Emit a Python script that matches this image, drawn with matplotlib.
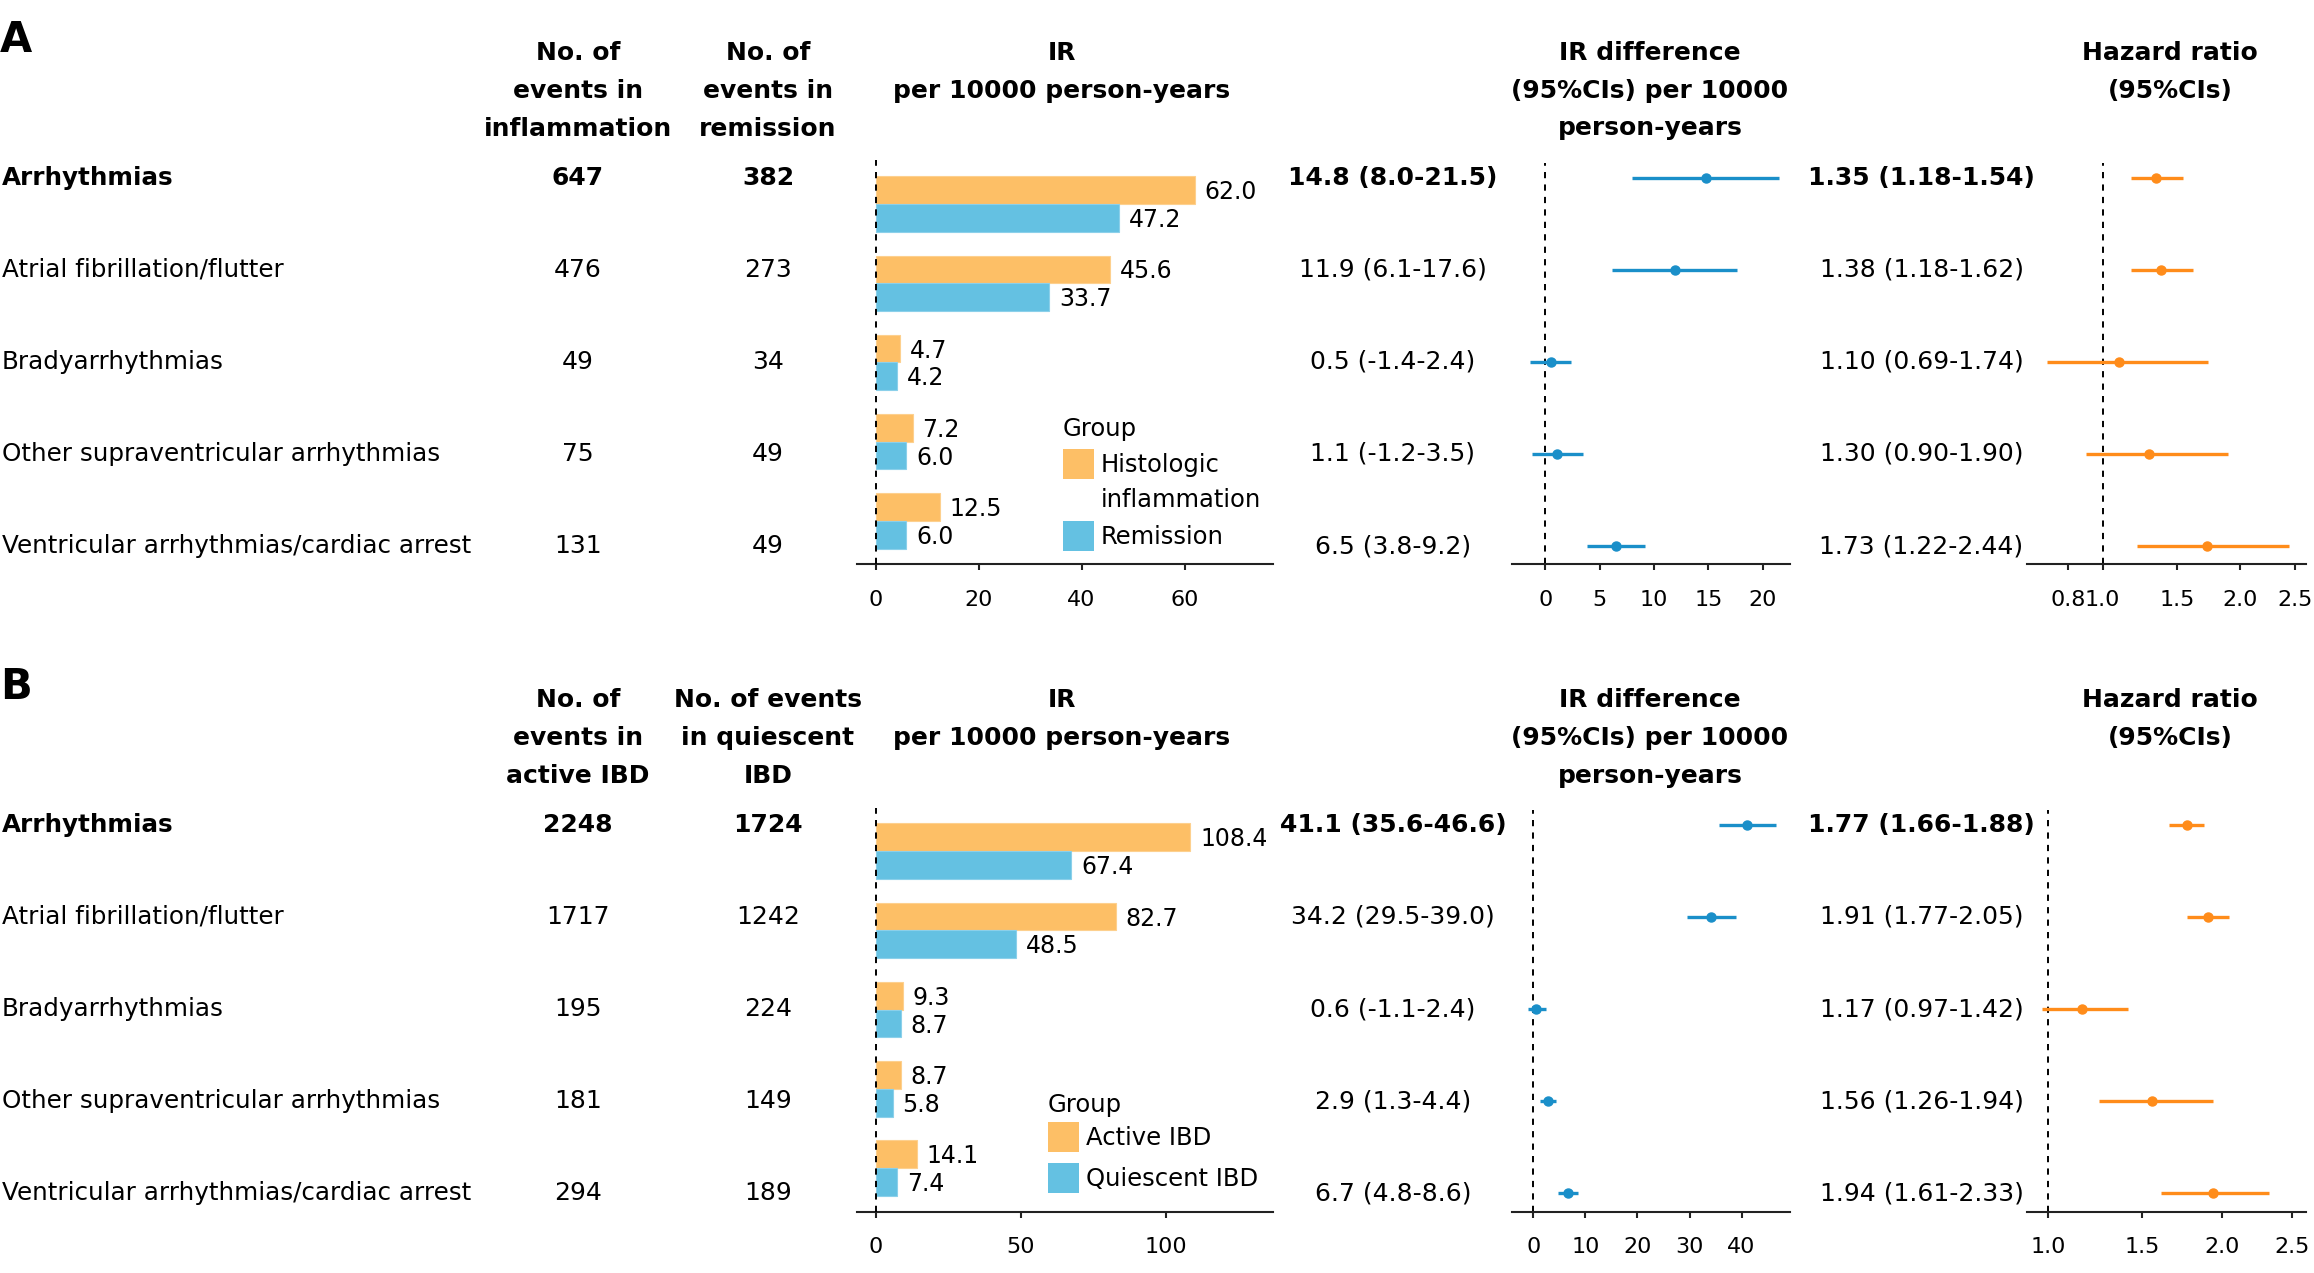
import numpy as np
import matplotlib
matplotlib.use("Agg")
import matplotlib.pyplot as plt
from matplotlib.patches import Rectangle
import matplotlib.transforms as mtransforms

plt.rcParams['font.family'] = ['DejaVu Sans']

# ---------------- data ----------------
categories = ["Arrhythmias", "Atrial fibrillation/flutter", "Bradyarrhythmias",
              "Other supraventricular arrhythmias", "Ventricular arrhythmias/cardiac arrest"]

# Panel A: histologic inflammation vs remission
a_events_1 = [647, 476, 49, 75, 131]
a_events_2 = [382, 273, 34, 49, 49]
a_ir_1 = [62.0, 45.6, 4.7, 7.2, 12.5]
a_ir_2 = [47.2, 33.7, 4.2, 6.0, 6.0]
a_ird = [14.8, 11.9, 0.5, 1.1, 6.5]
a_ird_lo = [8.0, 6.1, -1.4, -1.2, 3.8]
a_ird_hi = [21.5, 17.6, 2.4, 3.5, 9.2]
a_hr = [1.35, 1.38, 1.10, 1.30, 1.73]
a_hr_lo = [1.18, 1.18, 0.69, 0.90, 1.22]
a_hr_hi = [1.54, 1.62, 1.74, 1.90, 2.44]
a_col1 = ["No. of", "events in", "inflammation"]
a_col2 = ["No. of", "events in", "remission"]
a_legend = [["Histologic", "inflammation"], ["Remission"]]
a_bar_ticks = [0, 20, 40, 60]
a_ird_ticks = [0, 5, 10, 15, 20]
a_hr_ticks = [0.8, 1.0, 1.5, 2.0, 2.5]

# Panel B: active vs quiescent IBD
b_events_1 = [2248, 1717, 195, 181, 294]
b_events_2 = [1724, 1242, 224, 149, 189]
b_ir_1 = [108.4, 82.7, 9.3, 8.7, 14.1]
b_ir_2 = [67.4, 48.5, 8.7, 5.8, 7.4]
b_ird = [41.1, 34.2, 0.6, 2.9, 6.7]
b_ird_lo = [35.6, 29.5, -1.1, 1.3, 4.8]
b_ird_hi = [46.6, 39.0, 2.4, 4.4, 8.6]
b_hr = [1.77, 1.91, 1.17, 1.56, 1.94]
b_hr_lo = [1.66, 1.77, 0.97, 1.26, 1.61]
b_hr_hi = [1.88, 2.05, 1.42, 1.94, 2.33]
b_col1 = ["No. of", "events in", "active IBD"]
b_col2 = ["No. of events", "in quiescent", "IBD"]
b_legend = [["Active IBD"], ["Quiescent IBD"]]
b_bar_ticks = [0, 50, 100]
b_ird_ticks = [0, 10, 20, 30, 40]
b_hr_ticks = [1.0, 1.5, 2.0, 2.5]

hdr_ir = ["IR", "per 10000 person-years"]
hdr_ird = ["IR difference", "(95%CIs) per 10000", "person-years"]
hdr_hr = ["Hazard ratio", "(95%CIs)"]

# ---------------- style ----------------
W, H = 2314, 1273
DPI = 100
C_OR = "#FDBF66"
C_BL = "#64C1E2"
C_FB = "#1A8FC9"
C_FO = "#FF8C1A"
SP = "#222222"
FS = 18
FS_LAB = 17.7
FS_TICK = 16
FS_VAL = 17
DASH = (0, (3.2, 3.2))

fig = plt.figure(figsize=(W / DPI, H / DPI), dpi=DPI)


def px_axes(x0, x1, ytop, ybot):
    return fig.add_axes([x0 / W, 1 - ybot / H, (x1 - x0) / W, (ybot - ytop) / H])


def ftext(x, y, s, **kw):
    return fig.text(x / W, 1 - y / H, s, **kw)


def style_axis(ax, ticks, labels):
    for s in ["top", "right", "left"]:
        ax.spines[s].set_visible(False)
    ax.spines["bottom"].set_color(SP)
    ax.spines["bottom"].set_linewidth(1.5)
    ax.set_yticks([])
    ax.set_xticks(ticks)
    ax.set_xticklabels(labels)
    ax.tick_params(axis="x", length=4.5, width=1.5, color=SP, pad=14,
                   labelsize=FS_TICK, labelcolor="black")
    ax.patch.set_alpha(0)


def panel(off, letter, ev1, ev2, ir1, ir2, ird, ird_lo, ird_hi, hr, hr_lo, hr_hi,
          col1, col2, legend, bar_ticks, bar_xlim, ird_ticks, ird_xlim,
          hr_ticks, hr_xlim, leg_pos):
    n = len(categories)
    ypos = np.arange(n)

    # letter + headers
    ftext(0, 40 + off, letter, fontsize=30, fontweight="bold", ha="left", va="center")
    hy = [53 + off, 91 + off, 128.5 + off]
    for i, s in enumerate(col1):
        ftext(578, hy[i], s, fontsize=FS, fontweight="bold", ha="center", va="center")
    for i, s in enumerate(col2):
        ftext(768, hy[i], s, fontsize=FS, fontweight="bold", ha="center", va="center")
    for i, s in enumerate(hdr_ir):
        ftext(1062, hy[i], s, fontsize=FS, fontweight="bold", ha="center", va="center")
    for i, s in enumerate(hdr_ird):
        ftext(1650, hy[i], s, fontsize=FS, fontweight="bold", ha="center", va="center")
    for i, s in enumerate(hdr_hr):
        ftext(2170, hy[i], s, fontsize=FS, fontweight="bold", ha="center", va="center")

    # ---- bar chart ----
    axb = px_axes(857, 1272.5, 160.4 + off, 564.5 + off)
    h = 0.35
    axb.barh(ypos - h / 2, ir1, height=h, color=C_OR, edgecolor="#FDD08E", linewidth=0.8)
    axb.barh(ypos + h / 2, ir2, height=h, color=C_BL, edgecolor="#8BD0EA", linewidth=0.8)
    for i in range(n):
        axb.annotate(f"{ir1[i]:.1f}", (ir1[i], ypos[i] - h / 2), xytext=(7, -1.5),
                     textcoords="offset points", ha="left", va="center", fontsize=FS_VAL)
        axb.annotate(f"{ir2[i]:.1f}", (ir2[i], ypos[i] + h / 2), xytext=(7, -1.5),
                     textcoords="offset points", ha="left", va="center", fontsize=FS_VAL)
    axb.axvline(0, color="black", lw=1.4, ls=DASH, zorder=5)
    axb.set_xlim(*bar_xlim)
    axb.set_ylim(4.549, -0.55)
    style_axis(axb, bar_ticks, [str(t) for t in bar_ticks])

    # ---- IR difference forest ----
    axd = px_axes(1512, 1789.5, 162.9 + off, 564.5 + off)
    xerr = [np.array(ird) - np.array(ird_lo), np.array(ird_hi) - np.array(ird)]
    axd.errorbar(ird, ypos, xerr=xerr, fmt="o", color=C_FB, ms=6.5, elinewidth=2.4,
                 capsize=0, zorder=3)
    axd.axvline(0, color="black", lw=1.4, ls=DASH, zorder=1)
    axd.set_xlim(*ird_xlim)
    axd.set_ylim(4.2, -0.16)
    style_axis(axd, ird_ticks, [str(t) for t in ird_ticks])

    # ---- HR forest (sqrt scale) ----
    axh = px_axes(2027, 2306, 162.9 + off, 564.5 + off)
    axh.set_xscale("function", functions=(lambda v: np.sqrt(np.clip(v, 0, None)),
                                          lambda v: np.square(v)))
    xerr = [np.array(hr) - np.array(hr_lo), np.array(hr_hi) - np.array(hr)]
    axh.errorbar(hr, ypos, xerr=xerr, fmt="o", color=C_FO, ms=6.5, elinewidth=2.4,
                 capsize=0, zorder=3)
    axh.axvline(1.0, color="black", lw=1.4, ls=DASH, zorder=1)
    axh.set_xlim(*hr_xlim)
    axh.set_ylim(4.2, -0.16)
    style_axis(axh, hr_ticks, [f"{t:.1f}" for t in hr_ticks])
    axh.xaxis.set_minor_locator(matplotlib.ticker.NullLocator())

    # ---- table text, rows placed with the forest y-scale ----
    tr = mtransforms.blended_transform_factory(fig.transFigure, axd.transData)
    for i in range(n):
        fw = "bold" if i == 0 else "normal"
        fig.text(2 / W, ypos[i], categories[i], transform=tr, ha="left", va="center",
                 fontsize=FS_LAB, fontweight=fw)
        fig.text(578 / W, ypos[i], f"{ev1[i]}", transform=tr, ha="center", va="center",
                 fontsize=FS, fontweight=fw)
        fig.text(768 / W, ypos[i], f"{ev2[i]}", transform=tr, ha="center", va="center",
                 fontsize=FS, fontweight=fw)
        fig.text(1393 / W, ypos[i], f"{ird[i]:.1f} ({ird_lo[i]:.1f}-{ird_hi[i]:.1f})",
                 transform=tr, ha="center", va="center", fontsize=FS, fontweight=fw)
        fig.text(1921.5 / W, ypos[i], f"{hr[i]:.2f} ({hr_lo[i]:.2f}-{hr_hi[i]:.2f})",
                 transform=tr, ha="center", va="center", fontsize=FS, fontweight=fw)

    # ---- legend ----
    gx, gy, patch_y = leg_pos
    ftext(gx, gy, "Group", fontsize=17.5, ha="left", va="center")
    cols = [C_OR, C_BL]
    for k, (py, lines) in enumerate(zip(patch_y, legend)):
        fig.add_artist(Rectangle((gx / W, 1 - (py + 30) / H), 30.5 / W, 30 / H,
                                 transform=fig.transFigure, facecolor=cols[k],
                                 edgecolor="none"))
        for j, s in enumerate(lines):
            ftext(gx + 38, py + 16 + 35 * j, s, fontsize=17.5, ha="left", va="center")


panel(0, "A", a_events_1, a_events_2, a_ir_1, a_ir_2, a_ird, a_ird_lo, a_ird_hi,
      a_hr, a_hr_lo, a_hr_hi, a_col1, a_col2, a_legend,
      a_bar_ticks, (-3.6, 77.06), a_ird_ticks, (-3.07, 22.45),
      a_hr_ticks, (0.5953, 2.6033), (1063, 429, [449, 521]))

panel(647.2, "B", b_events_1, b_events_2, b_ir_1, b_ir_2, b_ird, b_ird_lo, b_ird_hi,
      b_hr, b_hr_lo, b_hr_hi, b_col1, b_col2, b_legend,
      b_bar_ticks, (-6.45, 136.7), b_ird_ticks, (-4.1, 49.2),
      b_hr_ticks, (0.9016, 2.61), (1048, 1105, [1122, 1163]))

fig.savefig("out.png", dpi=DPI)
